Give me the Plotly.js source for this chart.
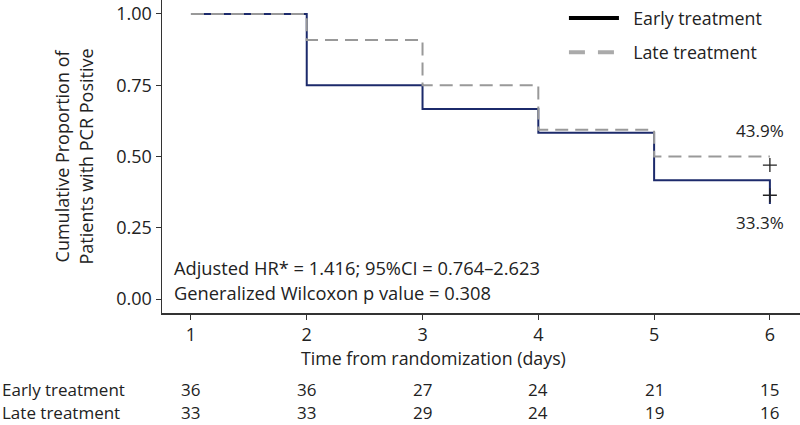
<!DOCTYPE html>
<html><head><meta charset="utf-8">
<script src="https://cdn.plot.ly/plotly-3.0.1.min.js"></script>
<style>html,body{margin:0;padding:0;background:#fff}#chart{width:800px;height:425px}</style>
</head><body><div id="chart"></div>
<script>
// Kaplan-Meier step data
const earlyDays = [1, 2, 3, 4, 5, 6];
const earlyProp = [1.0, 0.75, 0.667, 0.583, 0.417, 0.333];
const lateDays = [1, 2, 3, 4, 5, 6];
const lateProp = [1.0, 0.909, 0.75, 0.594, 0.50, 0.50];
const censorDay = [6, 6];
const censorProp = [0.364, 0.47];
const seriesNames = ["Early treatment", "Late treatment"];
const endLabels = ["43.9%", "33.3%"];
const endLabelY = [0.59, 0.27];
const yTicks = [0, 0.25, 0.5, 0.75, 1.0];
const xTicks = [1, 2, 3, 4, 5, 6];
const riskEarly = [36, 36, 27, 24, 21, 15];
const riskLate = [33, 33, 29, 24, 19, 16];
const statsLines = ["Adjusted HR* = 1.416; 95%CI = 0.764\u20132.623", "Generalized Wilcoxon p value = 0.308"];

const FONT = "Open Sans, Noto Sans, sans-serif";
const TXT = "#222";
const PAD = "\u00a0\u00a0";

const traces = [
  {x: earlyDays, y: earlyProp, mode: "lines", line: {shape: "hv", color: "#1c2a6b", width: 2}, showlegend: false, hoverinfo: "skip"},
  {x: lateDays, y: lateProp, mode: "lines", line: {shape: "hv", color: "#999999", width: 2, dash: "13px,7px"}, showlegend: false, hoverinfo: "skip"},
  {x: censorDay, y: censorProp, mode: "markers", marker: {symbol: "cross-thin", size: 10, line: {color: "#222", width: 1.3}}, showlegend: false, hoverinfo: "skip"},
  {x: [null], y: [null], mode: "lines", name: PAD + seriesNames[0], line: {color: "#000", width: 4}, legendgroup: "a"},
  {x: [null], y: [null], mode: "lines", name: PAD + seriesNames[1], line: {color: "#aaaaaa", width: 4, dash: "16px,13px"}, legendgroup: "b"}
];

const ann = [];
endLabels.forEach((t, i) => ann.push({x: 6.14, y: endLabelY[i], xref: "x", yref: "y", text: t, showarrow: false, xanchor: "right", yanchor: "middle", font: {size: 17, color: TXT, family: FONT}}));
statsLines.forEach((t, i) => ann.push({x: 0.84, y: 0.11 - i * 0.088, xref: "x", yref: "y", text: t, showarrow: false, xanchor: "left", yanchor: "middle", font: {size: 18.3, color: TXT, family: FONT}}));
ann.push({x: 0.425, y: -0.145, xref: "paper", yref: "paper", text: "Time from randomization (days)", showarrow: false, xanchor: "center", yanchor: "middle", font: {size: 17.8, color: TXT, family: FONT}});
ann.push({x: -0.138, y: 0.5, xref: "paper", yref: "paper", text: "Cumulative Proportion of<br>Patients with PCR Positive", textangle: -90, showarrow: false, xanchor: "center", yanchor: "middle", font: {size: 18, color: TXT, family: FONT}});
const rowY = [-0.246, -0.319];
[seriesNames[0], seriesNames[1]].forEach((t, i) => ann.push({x: -0.254, y: rowY[i], xref: "paper", yref: "paper", text: t, showarrow: false, xanchor: "left", yanchor: "middle", font: {size: 17, color: TXT, family: FONT}}));
[riskEarly, riskLate].forEach((row, i) => row.forEach((v, j) => ann.push({x: xTicks[j], y: rowY[i], xref: "x", yref: "paper", text: String(v), showarrow: false, xanchor: "center", yanchor: "middle", font: {size: 17, color: TXT, family: FONT}})));

const layout = {
  width: 800, height: 425,
  margin: {l: 162, r: 0, t: 0, b: 112},
  paper_bgcolor: "#fff", plot_bgcolor: "#fff",
  font: {family: FONT, color: TXT, size: 16},
  xaxis: {range: [0.75, 6.26], tickvals: xTicks, ticktext: xTicks.map(String), showgrid: false, zeroline: false,
          showline: true, linecolor: "#333", linewidth: 1.5, ticks: "outside", ticklen: 5, tickcolor: "#333", tickfont: {size: 18, color: TXT}},
  yaxis: {range: [-0.049, 1.049], tickvals: yTicks, ticktext: yTicks.map(v => v.toFixed(2)), showgrid: false, zeroline: false,
          showline: true, linecolor: "#333", linewidth: 1.5, ticks: "outside", ticklen: 5, tickcolor: "#333", tickfont: {size: 18, color: TXT}},
  legend: {x: 0.63, y: 1.0, xanchor: "left", yanchor: "top", bgcolor: "rgba(0,0,0,0)", font: {size: 17.8, color: TXT}, traceorder: "grouped", tracegroupgap: 8, itemwidth: 50},
  annotations: ann
};
Plotly.newPlot("chart", traces, layout, {displayModeBar: false, staticPlot: true});
</script></body></html>
